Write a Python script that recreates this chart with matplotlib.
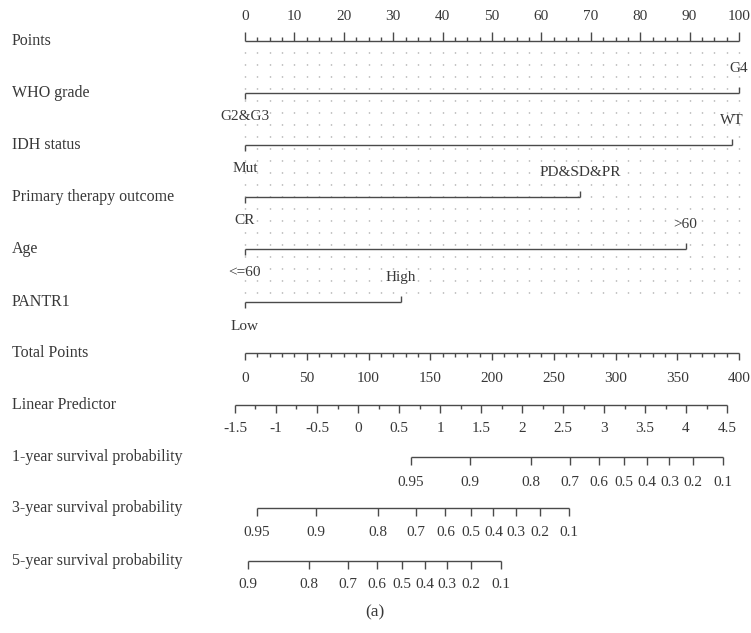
import numpy as np
import matplotlib
matplotlib.use("Agg")
import matplotlib.pyplot as plt
from matplotlib.transforms import blended_transform_factory

plt.rcParams["font.family"] = ["Liberation Serif", "DejaVu Serif"]
plt.rcParams["lines.scale_dashes"] = False

TEXT = "#383838"
LINE = "#4a4a4a"
DOT = "#8c8c8c"

# ---- nomogram content -------------------------------------------------
row_labels = ["Points", "WHO grade", "IDH status", "Primary therapy outcome",
              "Age", "PANTR1", "Total Points", "Linear Predictor",
              "1-year survival probability", "3-year survival probability",
              "5-year survival probability"]

# categorical predictors: (reference level, other level, points of other level)
var_low_levels = ["G2&G3", "Mut", "CR", "<=60", "Low"]
var_high_levels = ["G4", "WT", "PD&SD&PR", ">60", "High"]
var_high_points = [100.0, 98.5, 67.8, 89.2, 31.5]

points_major = [0, 10, 20, 30, 40, 50, 60, 70, 80, 90, 100]
total_major = [0, 50, 100, 150, 200, 250, 300, 350, 400]
lp_major = [-1.5, -1, -0.5, 0, 0.5, 1, 1.5, 2, 2.5, 3, 3.5, 4, 4.5]
lp_major_labels = ["-1.5", "-1", "-0.5", "0", "0.5", "1", "1.5", "2", "2.5",
                   "3", "3.5", "4", "4.5"]

# linear predictor as a function of total points
lp_at_zero_total = -1.378
lp_per_total_point = 0.01506

# baseline cumulative hazard (at LP = 0) for each horizon
baseline_hazard = {"1": 0.0270, "3": 0.1758, "5": 0.405}
surv_ticks = {
    "1": [0.95, 0.9, 0.8, 0.7, 0.6, 0.5, 0.4, 0.3, 0.2, 0.1],
    "3": [0.95, 0.9, 0.8, 0.7, 0.6, 0.5, 0.4, 0.3, 0.2, 0.1],
    "5": [0.9, 0.8, 0.7, 0.6, 0.5, 0.4, 0.3, 0.2, 0.1],
}


# ---- scale conversions (x axis is in "Points" units) --------------------
def total_to_x(t):
    return np.asarray(t, dtype=float) / 4.0


def lp_to_x(lp):
    total = (np.asarray(lp, dtype=float) - lp_at_zero_total) / lp_per_total_point
    return total_to_x(total)


def surv_to_x(s, h0):
    s = np.asarray(s, dtype=float)
    lp = np.log(-np.log(s) / h0)
    return lp_to_x(lp)


# ---- figure ------------------------------------------------------------
W, H = 751, 633
fig = plt.figure(figsize=(W / 100, H / 100), dpi=100)
ax = fig.add_axes([0, 0, 1, 1])
px_per_point = 4.94
x0_px = 245
ax.set_xlim(-x0_px / px_per_point, (W - x0_px) / px_per_point)
ax.set_ylim(H, 0)
ax.axis("off")

ppx = 1 / px_per_point  # one pixel in x data units
lab_tr = blended_transform_factory(ax.transAxes, ax.transData)

row_y = [41, 93, 145, 197, 249, 302, 353, 405, 457, 508, 561]
FS = 11.5
TFS = 11

for lab, y in zip(row_labels, row_y):
    ax.text(12 / W, y, lab, transform=lab_tr, ha="left", va="center",
            fontsize=FS, color=TEXT)

LW = 1.0

# dotted guide grid
grid_x = np.arange(0, 100.01, 2.5)
ax.vlines(grid_x, 52, 296, colors=DOT, linewidth=1.0,
          linestyles=[(0, (0.7, 7.94))])


def axis_with_ticks(y, x_start, x_end, major_x, minor_x, up, major_len, minor_len):
    ax.plot([x_start, x_end], [y, y], color=LINE, lw=LW, solid_capstyle="butt")
    sgn = -1 if up else 1
    for mx in major_x:
        ax.plot([mx, mx], [y, y + sgn * major_len], color=LINE, lw=LW,
                solid_capstyle="butt")
    for mx in minor_x:
        ax.plot([mx, mx], [y, y + sgn * minor_len], color=LINE, lw=LW,
                solid_capstyle="butt")


# Points axis
pts_minor = [v for v in np.arange(0, 100.01, 2.5) if v not in points_major]
axis_with_ticks(row_y[0], 0, 100, points_major, pts_minor, True, 9, 4)
for v in points_major:
    ax.text(v, 17, str(v), ha="center", va="center", fontsize=TFS, color=TEXT)

# categorical predictor axes
for i, (lo, hi, hp) in enumerate(zip(var_low_levels, var_high_levels,
                                     var_high_points)):
    y = row_y[i + 1]
    ax.plot([0, hp], [y, y], color=LINE, lw=LW, solid_capstyle="butt")
    ax.plot([0, 0], [y, y + 6], color=LINE, lw=LW, solid_capstyle="butt")
    ax.plot([hp, hp], [y, y - 6], color=LINE, lw=LW, solid_capstyle="butt")
    ax.text(0, y + 24, lo, ha="center", va="center", fontsize=TFS, color=TEXT)
    ax.text(hp, y - 25, hi, ha="center", va="center", fontsize=TFS, color=TEXT)

# Total points axis
y = row_y[6]
tot_minor = [v for v in range(0, 401, 10) if v not in total_major]
axis_with_ticks(y, total_to_x(0), total_to_x(400), total_to_x(total_major),
                total_to_x(tot_minor), False, 7, 4)
for v in total_major:
    ax.text(total_to_x(v), 378, str(v), ha="center", va="center",
            fontsize=TFS, color=TEXT)

# Linear predictor axis
y = row_y[7]
lp_minor = [v for v in np.arange(-1.5, 4.51, 0.25) if v not in lp_major]
axis_with_ticks(y, lp_to_x(-1.5), lp_to_x(4.5), lp_to_x(lp_major),
                lp_to_x(lp_minor), False, 8, 4)
for v, s in zip(lp_major, lp_major_labels):
    ax.text(lp_to_x(v), 429, s, ha="center", va="center", fontsize=TFS,
            color=TEXT)

# survival probability axes
for key, y, ly in zip(["1", "3", "5"], row_y[8:], [482, 533, 585]):
    ticks = surv_ticks[key]
    xs = surv_to_x(ticks, baseline_hazard[key])
    axis_with_ticks(y, xs.min(), xs.max(), xs, [], False, 8, 0)
    for v, xv in zip(ticks, xs):
        ax.text(xv, ly, f"{v:g}", ha="center", va="center", fontsize=TFS,
                color=TEXT)

ax.text(375 / W, 612, "(a)", transform=lab_tr, ha="center", va="center",
        fontsize=12.5, color=TEXT)

fig.savefig("out.png", dpi=100)
